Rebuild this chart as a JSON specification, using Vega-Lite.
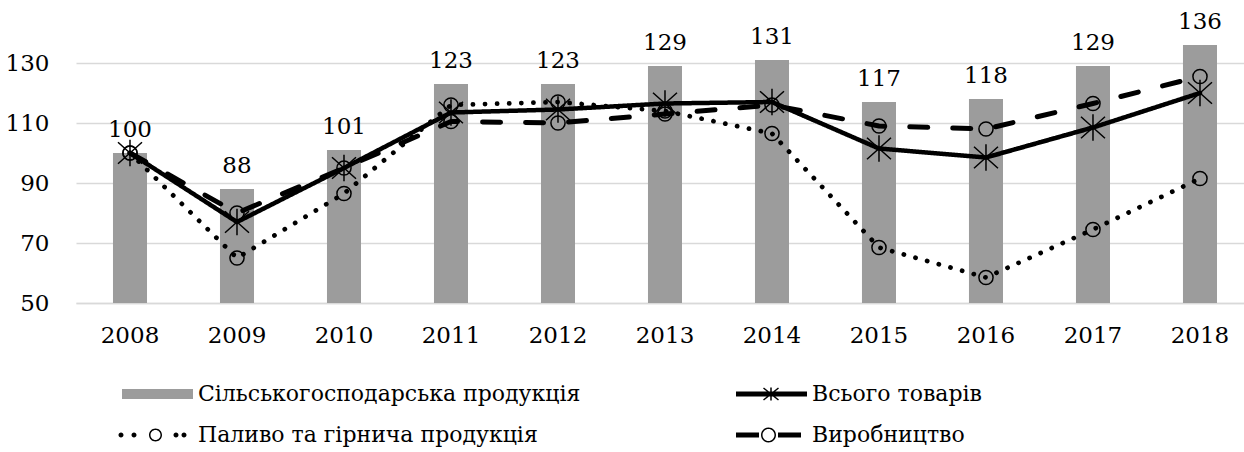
{
  "$schema": "https://vega.github.io/schema/vega-lite/v6.json",
  "width": 1168,
  "height": 270,
  "autosize": "none",
  "padding": {"left": 76, "top": 33, "right": 0, "bottom": 149},
  "background": "white",
  "config": {
    "view": {"stroke": null},
    "font": "DejaVu Serif",
    "axis": {"labelFont": "DejaVu Serif", "labelFontSize": 23, "labelColor": "#000000"},
    "legend": {"labelFont": "DejaVu Serif", "labelFontSize": 22, "labelColor": "#000000"}
  },
  "data": {
    "values": [
      {"year": "2008", "series": "Сільськогосподарська продукція", "value": 100},
      {"year": "2009", "series": "Сільськогосподарська продукція", "value": 88},
      {"year": "2010", "series": "Сільськогосподарська продукція", "value": 101},
      {"year": "2011", "series": "Сільськогосподарська продукція", "value": 123},
      {"year": "2012", "series": "Сільськогосподарська продукція", "value": 123},
      {"year": "2013", "series": "Сільськогосподарська продукція", "value": 129},
      {"year": "2014", "series": "Сільськогосподарська продукція", "value": 131},
      {"year": "2015", "series": "Сільськогосподарська продукція", "value": 117},
      {"year": "2016", "series": "Сільськогосподарська продукція", "value": 118},
      {"year": "2017", "series": "Сільськогосподарська продукція", "value": 129},
      {"year": "2018", "series": "Сільськогосподарська продукція", "value": 136},
      {"year": "2008", "series": "Всього товарів", "value": 100},
      {"year": "2009", "series": "Всього товарів", "value": 77},
      {"year": "2010", "series": "Всього товарів", "value": 95},
      {"year": "2011", "series": "Всього товарів", "value": 113.5},
      {"year": "2012", "series": "Всього товарів", "value": 114.5},
      {"year": "2013", "series": "Всього товарів", "value": 116.5},
      {"year": "2014", "series": "Всього товарів", "value": 117},
      {"year": "2015", "series": "Всього товарів", "value": 101.5},
      {"year": "2016", "series": "Всього товарів", "value": 98.5},
      {"year": "2017", "series": "Всього товарів", "value": 108.5},
      {"year": "2018", "series": "Всього товарів", "value": 120},
      {"year": "2008", "series": "Паливо та гірнича продукція", "value": 100},
      {"year": "2009", "series": "Паливо та гірнича продукція", "value": 65},
      {"year": "2010", "series": "Паливо та гірнича продукція", "value": 86.5},
      {"year": "2011", "series": "Паливо та гірнича продукція", "value": 116},
      {"year": "2012", "series": "Паливо та гірнича продукція", "value": 117},
      {"year": "2013", "series": "Паливо та гірнича продукція", "value": 114},
      {"year": "2014", "series": "Паливо та гірнича продукція", "value": 106.5},
      {"year": "2015", "series": "Паливо та гірнича продукція", "value": 68.5},
      {"year": "2016", "series": "Паливо та гірнича продукція", "value": 58.5},
      {"year": "2017", "series": "Паливо та гірнича продукція", "value": 74.5},
      {"year": "2018", "series": "Паливо та гірнича продукція", "value": 91.5},
      {"year": "2008", "series": "Виробництво", "value": 100},
      {"year": "2009", "series": "Виробництво", "value": 80},
      {"year": "2010", "series": "Виробництво", "value": 95},
      {"year": "2011", "series": "Виробництво", "value": 110.5},
      {"year": "2012", "series": "Виробництво", "value": 110},
      {"year": "2013", "series": "Виробництво", "value": 113},
      {"year": "2014", "series": "Виробництво", "value": 116},
      {"year": "2015", "series": "Виробництво", "value": 109},
      {"year": "2016", "series": "Виробництво", "value": 108},
      {"year": "2017", "series": "Виробництво", "value": 116.5},
      {"year": "2018", "series": "Виробництво", "value": 125.5}
    ]
  },
  "encoding": {
    "x": {
      "field": "year", "type": "ordinal",
      "scale": {"paddingInner": 0.682, "paddingOuter": 0.299, "align": 0.578},
      "axis": {"title": null, "labelAngle": 0, "ticks": false, "tickSize": 0, "domain": true, "domainColor": "#d9d9d9", "domainWidth": 1.5, "labelPadding": 32, "labelBaseline": "middle", "grid": false}
    },
    "y": {
      "field": "value", "type": "quantitative",
      "scale": {"domain": [50, 140], "nice": false, "zero": false},
      "axis": {"title": null, "values": [50, 70, 90, 110, 130], "domain": false, "ticks": false, "tickSize": 0, "grid": true, "gridColor": "#d9d9d9", "gridWidth": 1.5, "labelPadding": 27}
    }
  },
  "layer": [
    {
      "transform": [{"filter": "datum.series === 'Сільськогосподарська продукція'"}],
      "mark": {"type": "bar", "fill": "#9c9c9c", "clip": true}
    },
    {
      "transform": [{"filter": "datum.series === 'Сільськогосподарська продукція'"}],
      "mark": {"type": "text", "dy": -16, "baseline": "alphabetic", "fontSize": 23, "font": "DejaVu Serif", "color": "#000000"},
      "encoding": {"text": {"field": "value", "type": "quantitative"}}
    },
    {
      "transform": [{"filter": "datum.series !== 'Сільськогосподарська продукція'"}],
      "mark": {"type": "line", "color": "#000000", "strokeCap": "round", "strokeJoin": "round"},
      "encoding": {
        "detail": {"field": "series"},
        "strokeDash": {"field": "series", "type": "nominal", "legend": null,
          "scale": {"domain": ["Всього товарів", "Паливо та гірнича продукція", "Виробництво"], "range": [[1, 0], [0.1, 12], [18, 25]]}},
        "strokeWidth": {"field": "series", "type": "nominal", "legend": null,
          "scale": {"domain": ["Всього товарів", "Паливо та гірнича продукція", "Виробництво"], "range": [4.5, 5, 5]}}
      }
    },
    {
      "transform": [{"filter": "datum.series === 'Всього товарів'"}],
      "mark": {"type": "point", "shape": "M-1,-0.9L1,0.9M-1,0.9L1,-0.9M0,-1.1L0,1.1", "size": 576, "filled": false, "stroke": "#000000", "strokeWidth": 1.5, "opacity": 1}
    },
    {
      "transform": [{"filter": "datum.series === 'Паливо та гірнича продукція' || datum.series === 'Виробництво'"}],
      "mark": {"type": "point", "shape": "circle", "size": 200, "filled": false, "stroke": "#000000", "strokeWidth": 1.5, "opacity": 1}
    },
    {
      "transform": [{"filter": "false"}],
      "mark": {"type": "point", "filled": true, "opacity": 1},
      "encoding": {
        "shape": {
          "field": "series", "type": "nominal",
          "scale": {
            "domain": ["Сільськогосподарська продукція", "Всього товарів", "Паливо та гірнича продукція", "Виробництво"],
            "range": [
              "M-1,-1L13.2,-1L13.2,1L-1,1Z",
              "M-1,-0.5L13.2,-0.5L13.2,0.5L-1,0.5ZM5.85,-1.3L6.15,-1.3L6.15,1.3L5.85,1.3ZM4.406,-1.083L4.594,-1.317L7.594,1.083L7.406,1.317ZM4.594,1.317L4.406,1.083L7.406,-1.317L7.594,-1.083Z",
              "M-1.7,0A0.5,0.5 0 1,1 -0.7,0A0.5,0.5 0 1,1 -1.7,0ZM0.9,0A0.5,0.5 0 1,1 1.9,0A0.5,0.5 0 1,1 0.9,0ZM4.4,0A1.3,1.3 0 1,1 7.0,0A1.3,1.3 0 1,1 4.4,0ZM4.7,0A1,1 0 1,0 6.7,0A1,1 0 1,0 4.7,0ZM9.3,0A0.5,0.5 0 1,1 10.3,0A0.5,0.5 0 1,1 9.3,0ZM10.9,0A0.5,0.5 0 1,1 11.9,0A0.5,0.5 0 1,1 10.9,0Z",
              "M-1,-0.5L3.6,-0.5L3.6,0.5L-1,0.5ZM4,0A1.5,1.5 0 1,1 7,0A1.5,1.5 0 1,1 4,0ZM4.3,0A1.2,1.2 0 1,0 6.7,0A1.2,1.2 0 1,0 4.3,0ZM7.4,-0.5L12,-0.5L12,0.5L7.4,0.5Z"
            ]
          },
          "legend": {"title": null, "orient": "none", "direction": "horizontal", "legendX": 40, "legendY": 350, "columns": 2, "columnPadding": 149, "rowPadding": 19, "symbolSize": 100, "symbolStrokeWidth": 0, "labelOffset": 60, "labelLimit": 0, "padding": 0, "gridAlign": "all"}
        },
        "fill": {
          "field": "series", "type": "nominal",
          "scale": {
            "domain": ["Сільськогосподарська продукція", "Всього товарів", "Паливо та гірнича продукція", "Виробництво"],
            "range": ["#9c9c9c", "#000000", "#000000", "#000000"]
          },
          "legend": {"title": null, "orient": "none", "direction": "horizontal", "legendX": 40, "legendY": 350, "columns": 2, "columnPadding": 149, "rowPadding": 19, "symbolSize": 100, "symbolStrokeWidth": 0, "labelOffset": 60, "labelLimit": 0, "padding": 0, "gridAlign": "all"}
        }
      }
    }
  ]
}
